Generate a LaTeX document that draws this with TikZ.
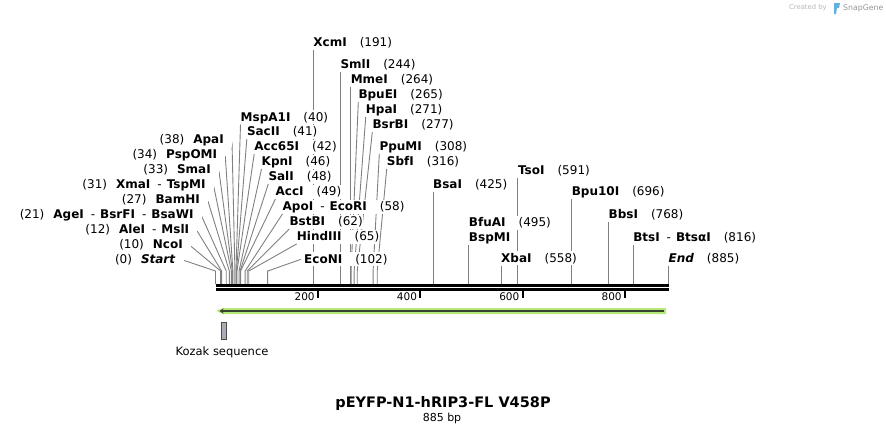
\documentclass[tikz,border=0pt]{standalone}
\usepackage{fontspec}
\setmainfont{DejaVu Sans}
\usetikzlibrary{arrows.meta,backgrounds}
\definecolor{tagli}{RGB}{128,128,128}
\definecolor{verdefeat}{RGB}{180,232,120}
\definecolor{scurofeat}{RGB}{55,65,45}
\definecolor{kozakgrigio}{RGB}{168,172,180}
\definecolor{snapblu}{RGB}{90,180,230}
\definecolor{snapgrigio}{RGB}{150,150,150}
\newcommand\scala{0.5117}
\newcommand\trattino{\textmd{\hspace{7pt}-\hspace{5pt}}}
\newcommand\sito[2]{\textbf{#1}\hspace{13pt}(#2)}
\newcommand\sitol[2]{(#2)\hspace{9pt}\textbf{#1}}
\begin{document}
\begin{tikzpicture}[x=1pt,y=-1pt,
    lab/.style={font=\fontsize{12}{14}\selectfont, fill=white, inner xsep=0pt, inner ysep=1pt, text height=9.8pt, text depth=2.2pt},
    rlab/.style={lab, anchor=west},
    llab/.style={lab, anchor=east, inner xsep=8pt},
    taglio/.style={draw=tagli, line width=0.9pt}]
    \useasboundingbox (0,0) rectangle (886,434);
    % Siti di taglio
    \foreach \p in {0,10,12,21,27,31,33,34,38,40,41,42,46,48,49,58,62,65,102,191,244,264,265,271,277,308,316,425,495,558,591,696,768,816,885} {
        \coordinate (t\p) at ({215.5+\scala*\p},271);
        \coordinate (b\p) at ({215.5+\scala*\p},284);
    }
    % Etichette a sinistra
    \node[llab] (apa) at (232,140) {\sitol{ApaI}{38}};
    \node[llab] (psp) at (225.3,154.3) {\sitol{PspOMI}{34}};
    \node[llab] (sma) at (219,169.3) {\sitol{SmaI}{33}};
    \node[llab] (xma) at (213.7,184.3) {\sitol{XmaI\trattino TspMI}{31}};
    \node[llab] (bam) at (208,199.3) {\sitol{BamHI}{27}};
    \node[llab] (age) at (201.7,214.3) {\sitol{AgeI\trattino BsrFI\trattino BsaWI}{21}};
    \node[llab] (ale) at (197.3,229.3) {\sitol{AleI\trattino MslI}{12}};
    \node[llab] (nco) at (191,244.3) {\sitol{NcoI}{10}};
    \node[llab] (start) at (183.7,259.3) {\sitol{\textit{Start}}{0}};
    % Etichette in alto
    \node[rlab] (msp) at (240.5,117.3) {\sito{MspA1I}{40}};
    \node[rlab] (sac) at (246.8,131.8) {\sito{SacII}{41}};
    \node[rlab] (acc65) at (254.2,146.7) {\sito{Acc65I}{42}};
    \node[rlab] (kpn) at (261.5,161.7) {\sito{KpnI}{46}};
    \node[rlab] (sal) at (268.3,176.7) {\sito{SalI}{48}};
    \node[rlab] (acc) at (275.5,191.7) {\sito{AccI}{49}};
    \node[rlab] (apo) at (282.5,206.7) {\sito{ApoI\trattino EcoRI}{58}};
    \node[rlab] (bstb) at (289.3,221.7) {\sito{BstBI}{62}};
    \node[rlab] (hind) at (296.7,236.7) {\sito{HindIII}{65}};
    \node[rlab] (econ) at (304,259.3) {\sito{EcoNI}{102}};
    % Etichette a destra
    \node[rlab] (xcm) at (t191 |- 0,42.3) {\sito{XcmI}{191}};
    \node[rlab] (sml) at (t244 |- 0,65) {\sito{SmlI}{244}};
    \node[rlab] (mme) at (t264 |- 0,80) {\sito{MmeI}{264}};
    \node[rlab] (bpue) at (358.3,95) {\sito{BpuEI}{265}};
    \node[rlab] (hpa) at (365.7,110) {\sito{HpaI}{271}};
    \node[rlab] (bsrb) at (372.3,125) {\sito{BsrBI}{277}};
    \node[rlab] (ppum) at (379.3,146.7) {\sito{PpuMI}{308}};
    \node[rlab] (sbf) at (386.7,161.7) {\sito{SbfI}{316}};
    \node[rlab] (bsa) at (t425 |- 0,185) {\sito{BsaI}{425}};
    \node[rlab] (bfua) at (t495 |- 0,222.7) {\sito{BfuAI}{495}};
    \node[rlab] (bspm) at (t495 |- 0,237.3) {\textbf{BspMI}};
    \node[rlab] (xba) at (t558 |- 0,258.3) {\sito{XbaI}{558}};
    \node[rlab] (tso) at (t591 |- 0,170.7) {\sito{TsoI}{591}};
    \node[rlab] (bpu10) at (t696 |- 0,191.7) {\sito{Bpu10I}{696}};
    \node[rlab] (bbs) at (t768 |- 0,215) {\sito{BbsI}{768}};
    \node[rlab] (bts) at (t816 |- 0,237.3) {\sito{BtsI\trattino BtsαI}{816}};
    \node[rlab] (end) at (t885 |- 0,258.3) {\sito{\textit{End}}{885}};
    % Linee
    \begin{scope}[on background layer]
    \draw[taglio] ([yshift=-2pt]apa.east) -- (t38) -- (b38);
    \draw[taglio] ([yshift=-2pt]psp.east) -- (t34) -- (b34);
    \draw[taglio] ([yshift=-2pt]sma.east) -- (t33) -- (b33);
    \draw[taglio] ([yshift=-2pt]xma.east) -- (t31) -- (b31);
    \draw[taglio] ([yshift=-2pt]bam.east) -- (t27) -- (b27);
    \draw[taglio] ([yshift=-2pt]age.east) -- (t21) -- (b21);
    \draw[taglio] ([yshift=-2pt]ale.east) -- (t12) -- (b12);
    \draw[taglio] ([yshift=-2pt]nco.east) -- (t10) -- (b10);
    \draw[taglio] ([yshift=-1pt]start.east) -- (t0) -- (b0);
    \draw[taglio] (msp.south west) -- (t40) -- (b40);
    \draw[taglio] (sac.south west) -- (t41) -- (b41);
    \draw[taglio] (acc65.south west) -- (t42) -- (b42);
    \draw[taglio] (kpn.south west) -- (t46) -- (b46);
    \draw[taglio] (sal.south west) -- (t48) -- (b48);
    \draw[taglio] (acc.south west) -- (t49) -- (b49);
    \draw[taglio] (apo.south west) -- (t58) -- (b58);
    \draw[taglio] (bstb.south west) -- (t62) -- (b62);
    \draw[taglio] (hind.south west) -- (t65) -- (b65);
    \draw[taglio] ([xshift=-3pt]econ.west) -- (t102) -- (b102);
    \draw[taglio] (xcm.south west) -- (b191);
    \draw[taglio] (sml.south west) -- (b244);
    \draw[taglio] (mme.south west) -- (b264);
    \draw[taglio] (bpue.south west) -- (t265) -- (b265);
    \draw[taglio] (hpa.south west) -- (t271) -- (b271);
    \draw[taglio] (bsrb.south west) -- (t277) -- (b277);
    \draw[taglio] (ppum.south west) -- (t308) -- (b308);
    \draw[taglio] (sbf.south west) -- (t316) -- (b316);
    \draw[taglio] (bsa.south west) -- (b425);
    \draw[taglio] (bspm.south west) -- (b495);
    \draw[taglio] (xba.south west) -- (b558);
    \draw[taglio] (tso.south west) -- (b591);
    \draw[taglio] (bpu10.south west) -- (b696);
    \draw[taglio] (bbs.south west) -- (b768);
    \draw[taglio] (bts.south west) -- (b816);
    \draw[taglio] (end.south west) -- (b885);
    \end{scope}
    % Sequenza e scala
    \draw[line width=2.5pt] (215.5,285.3) -- (669,285.3);
    \draw[line width=2.4pt] (215.5,289.5) -- (669,289.5);
    \foreach \t in {200,400,600,800} {
        \draw[line width=2pt] ({215.5+\scala*\t},290.5) -- ({215.5+\scala*\t},297.5);
        \node[font=\fontsize{10.5}{12}\selectfont, anchor=east, inner sep=0pt] (n\t) at ({212.5+\scala*\t},296.5) {\t};
    }
    % Feature
    \fill[verdefeat] (666,308) -- (223,308) -- (216.5,311) -- (223,314) -- (666,314) -- cycle;
    \draw[scurofeat, line width=2pt, -{Stealth[length=4pt,width=5pt]}] (664,311) -- (219.5,311);
    \node[draw=black!70, fill=kozakgrigio, line width=0.8pt, minimum width=5.3pt, minimum height=16.6pt, inner sep=0pt] (kozak) at (223.7,331) {};
    \node[font=\fontsize{11.5}{13}\selectfont, inner sep=0pt] (kozaklab) at (222,352.3) {Kozak sequence};
    % Titolo
    \node[font=\bfseries\fontsize{14.5}{16}\selectfont, inner sep=0pt] (titolo) at (443,403.5) {pEYFP-N1-hRIP3-FL V458P};
    \node[font=\fontsize{11}{13}\selectfont, inner sep=0pt] (lung) at (442,418.3) {885 bp};
    % SnapGene
    \node[font=\fontsize{6.8}{8}\selectfont, text=snapgrigio!70, anchor=west, inner sep=0pt] (cby) at (789,8) {Created by};
    \fill[snapblu] (834,3) -- (840,3) -- (839,8) -- (837,8) -- (836,14) -- (834,14) -- cycle;
    \node[font=\fontsize{7.8}{9}\selectfont, text=snapgrigio, anchor=west, inner sep=0pt] (sg) at (843,8) {SnapGene};
\end{tikzpicture}
\end{document}
